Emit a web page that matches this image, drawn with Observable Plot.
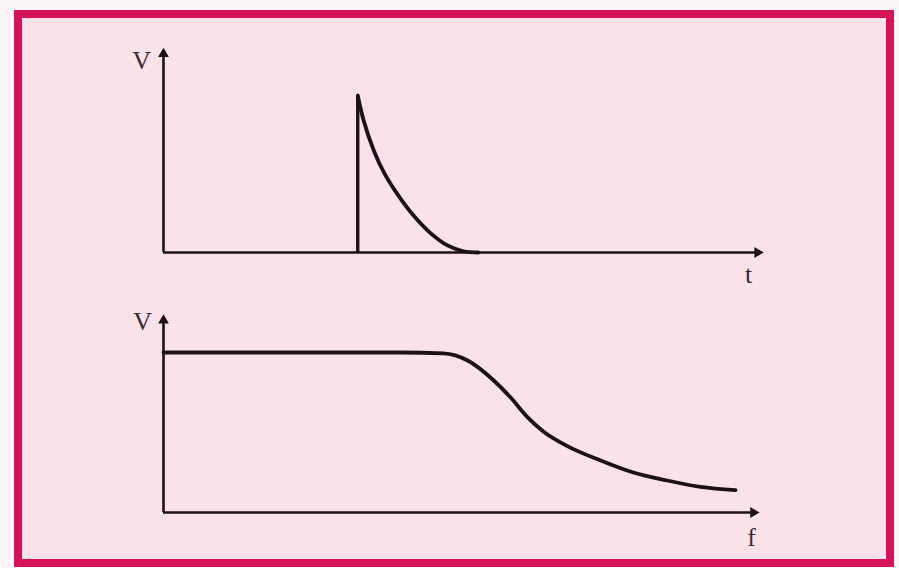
<!DOCTYPE html>
<html><head><meta charset="utf-8">
<script src="https://cdn.jsdelivr.net/npm/d3@7"></script>
<script src="https://cdn.jsdelivr.net/npm/@observablehq/plot@0.6"></script>
<style>
html,body{margin:0;padding:0;background:#fdf6f8;}
#wrap{position:relative;width:899px;height:568px;overflow:hidden;background:#fdf6f8;}
#frame{position:absolute;left:14px;top:10px;width:880px;height:557px;box-sizing:border-box;border:8px solid #d6135a;background:#fbe2e9;}
.panel{position:absolute;left:0;}
</style></head><body><div id="wrap"><div id="frame"></div></div>
<script>
// ---- data ----
// top panel: voltage pulse vs time
const timeAxisEnd = 10;
const voltAxisTopEnd = 1.265;
const pulseOnsetT = 3.27;
const pulsePeakV = 1.0;
const decayT = [3.27, 3.37, 3.54, 3.71, 3.94, 4.21, 4.49, 4.78, 5.05, 5.3];
const decayV = [1.00, 0.84, 0.65, 0.51, 0.37, 0.235, 0.125, 0.045, 0.008, 0.0];
// bottom panel: voltage vs frequency
const freqAxisEnd = 9.93;
const voltAxisBottomEnd = 1.20;
const spectrumF = [0, 4.0, 4.71, 5.12, 5.56, 5.84, 6.13, 6.40, 6.80, 7.36, 7.91, 8.48, 9.04, 9.63];
const spectrumV = [1, 1, 0.994, 0.95, 0.825, 0.72, 0.595, 0.505, 0.415, 0.325, 0.25, 0.20, 0.16, 0.14];
// labels
const topLabels = [{x: -0.37, y: 1.22, text: "V"}, {x: 9.85, y: -0.14, text: "t"}];
const bottomLabels = [{x: -0.35, y: 1.19, text: "V"}, {x: 9.9, y: -0.156, text: "f"}];

const ink = "#1c1216";
const textInk = "#3b2a33";
const font = "'Liberation Serif', 'DejaVu Serif', serif";

function axesMarks(xEnd, yEnd) {
  return [
    Plot.ruleY([0], {x1: 0, x2: xEnd, stroke: ink, strokeWidth: 2.6}),
    Plot.ruleX([0], {y1: 0, y2: yEnd, stroke: ink, strokeWidth: 2.6}),
    Plot.dot([{x: xEnd, y: 0}], {x: "x", y: "y", symbol: "triangle", rotate: 90, r: 4, fill: ink, stroke: "none"}),
    Plot.dot([{x: 0, y: yEnd}], {x: "x", y: "y", symbol: "triangle", r: 4, fill: ink, stroke: "none"})
  ];
}
function labelMarks(labels) {
  return Plot.text(labels, {x: "x", y: "y", text: "text", fill: textInk, fontSize: 26, fontFamily: font, textAnchor: "middle"});
}

const decay = decayT.map((t, i) => ({t, v: decayV[i]}));
const topPanel = Plot.plot({
  width: 899, height: 290,
  style: {background: "transparent", overflow: "visible"},
  x: {domain: [0, 10], range: [163, 757], axis: null},
  y: {domain: [0, 1], range: [252, 95], axis: null},
  marks: [
    ...axesMarks(timeAxisEnd, voltAxisTopEnd),
    Plot.ruleX([pulseOnsetT], {y1: 0, y2: pulsePeakV, stroke: ink, strokeWidth: 3.4}),
    Plot.line(decay, {x: "t", y: "v", curve: "catmull-rom", stroke: ink, strokeWidth: 3.8}),
    labelMarks(topLabels)
  ]
});
topPanel.classList.add("panel"); topPanel.style.top = "0px";

const spectrum = spectrumF.map((f, i) => ({f, v: spectrumV[i]}));
const bottomPanel = Plot.plot({
  width: 899, height: 278,
  style: {background: "transparent", overflow: "visible"},
  x: {domain: [0, 10], range: [163, 757], axis: null},
  y: {domain: [0, 1], range: [222, 62], axis: null},
  marks: [
    ...axesMarks(freqAxisEnd, voltAxisBottomEnd),
    Plot.line(spectrum, {x: "f", y: "v", curve: "monotone-x", stroke: ink, strokeWidth: 3.8}),
    labelMarks(bottomLabels)
  ]
});
bottomPanel.classList.add("panel"); bottomPanel.style.top = "290px";

const wrap = document.getElementById("wrap");
wrap.appendChild(topPanel);
wrap.appendChild(bottomPanel);
</script>
</body></html>
